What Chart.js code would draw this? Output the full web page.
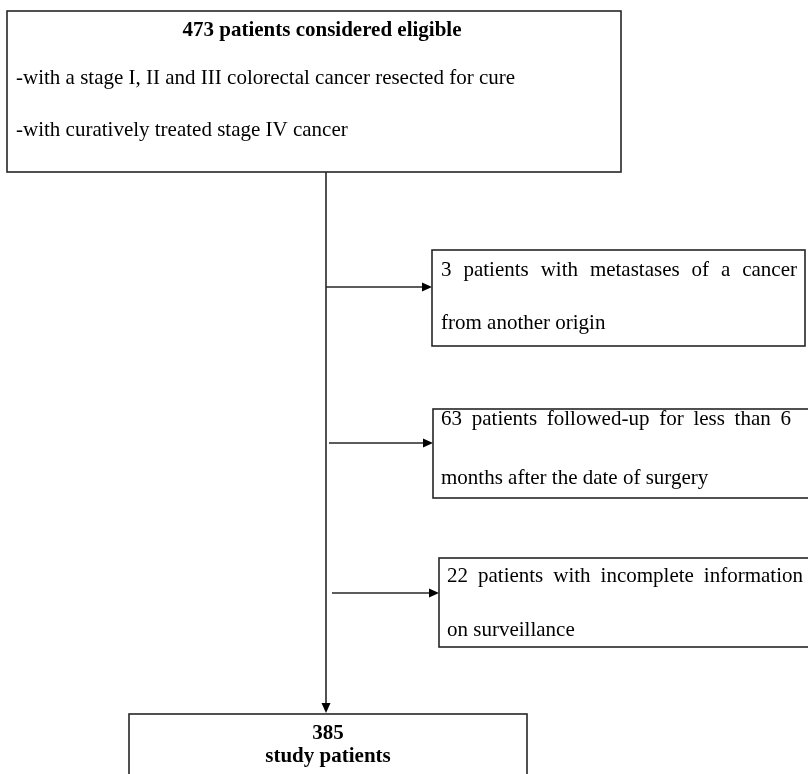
<!DOCTYPE html>
<html>
<head>
<meta charset="utf-8">
<script src="https://cdn.jsdelivr.net/npm/chart.js@4"></script>
<style>
    html, body { margin: 0; padding: 0; background: #fff; }
    #flow { display: block; }
</style>
</head>
<body>
<canvas id="flow" width="808" height="774"></canvas>
<script>
// patient counts for each step of the flow
const eligibleCount = 473;
const excludedCounts = [3, 63, 22];
const studyCount = 385;

// box texts
const eligibleTitle = `${eligibleCount} patients considered eligible`;
const eligibleCriteria = [
    '-with a stage I, II and III colorectal cancer resected for cure',
    '-with curatively treated stage IV cancer'
];
const excludedReasons = [
    ['patients with metastases of a cancer', 'from another origin'],
    ['patients followed-up for less than 6', 'months after the date of surgery'],
    ['patients with incomplete information', 'on surveillance']
];
const studyLabel = 'study patients';

// layout in page units (axis 0..808 x 0..774)
const layout = {
    top: { x0: 7, x1: 621, y0: 11, y1: 172, titleY: 31, lineY: [78, 130], padX: 9 },
    trunkX: 326,
    side: [
        { fromX: 326, y: 287, x0: 432, x1: 805, y0: 250, y1: 346, lineY: [270, 323], padL: 9, textRight: 797 },
        { fromX: 329, y: 443, x0: 433, x1: 816, y0: 409, y1: 498, lineY: [419, 478], padL: 8, textRight: 791 },
        { fromX: 332, y: 593, x0: 439, x1: 816, y0: 558, y1: 647, lineY: [576, 630], padL: 8, textRight: 803 }
    ],
    bottom: { x0: 129, x1: 527, y0: 714, y1: 800, lineY: [734, 757] }
};

const serif = '"Liberation Serif", "Times New Roman", serif';
const fontSize = 21;

function drawArrow(ctx, x1, y1, x2, y2) {
    const ang = Math.atan2(y2 - y1, x2 - x1);
    const len = 10, half = 4.5;
    ctx.beginPath();
    ctx.moveTo(x1, y1);
    ctx.lineTo(x2 - Math.cos(ang) * len, y2 - Math.sin(ang) * len);
    ctx.stroke();
    ctx.beginPath();
    ctx.moveTo(x2, y2);
    ctx.lineTo(x2 - Math.cos(ang) * len - Math.sin(ang) * half, y2 - Math.sin(ang) * len + Math.cos(ang) * half);
    ctx.lineTo(x2 - Math.cos(ang) * len + Math.sin(ang) * half, y2 - Math.sin(ang) * len - Math.cos(ang) * half);
    ctx.closePath();
    ctx.fill();
}

// spreads the words of a line between two x positions
function justified(ctx, text, left, right, y) {
    const words = text.split(' ');
    const wordsW = words.reduce((s, w) => s + ctx.measureText(w).width, 0);
    const gap = (right - left - wordsW) / (words.length - 1);
    let x = left;
    ctx.textAlign = 'left';
    words.forEach(w => {
        ctx.fillText(w, x, y);
        x += ctx.measureText(w).width + gap;
    });
}

const flowPlugin = {
    id: 'flowDiagram',
    afterDraw(chart) {
        const ctx = chart.ctx;
        const sx = v => chart.scales.x.getPixelForValue(v);
        const sy = v => chart.scales.y.getPixelForValue(v);
        const rect = b => {
            ctx.strokeRect(sx(b.x0), sy(b.y0), sx(b.x1) - sx(b.x0), sy(b.y1) - sy(b.y0));
        };

        ctx.save();
        ctx.strokeStyle = '#262626';
        ctx.fillStyle = '#000';
        ctx.lineWidth = 1.6;
        ctx.textBaseline = 'middle';

        // top box
        const t = layout.top;
        rect(t);
        ctx.font = `bold ${fontSize}px ${serif}`;
        ctx.textAlign = 'center';
        ctx.fillText(eligibleTitle, (sx(t.x0) + sx(t.x1)) / 2 + 8, sy(t.titleY));
        ctx.font = `${fontSize}px ${serif}`;
        ctx.textAlign = 'left';
        eligibleCriteria.forEach((line, i) => ctx.fillText(line, sx(t.x0 + t.padX), sy(t.lineY[i])));

        // trunk down to the study box
        const b = layout.bottom;
        drawArrow(ctx, sx(layout.trunkX), sy(t.y1), sx(layout.trunkX), sy(b.y0 - 1));

        // exclusions
        layout.side.forEach((s, i) => {
            drawArrow(ctx, sx(s.fromX), sy(s.y), sx(s.x0), sy(s.y));
            rect(s);
            ctx.font = `${fontSize}px ${serif}`;
            const first = `${excludedCounts[i]} ${excludedReasons[i][0]}`;
            justified(ctx, first, sx(s.x0 + s.padL), sx(s.textRight), sy(s.lineY[0]));
            ctx.textAlign = 'left';
            ctx.fillText(excludedReasons[i][1], sx(s.x0 + s.padL), sy(s.lineY[1]));
        });

        // study patients box
        rect(b);
        ctx.font = `bold ${fontSize}px ${serif}`;
        ctx.textAlign = 'center';
        const cx = (sx(b.x0) + sx(b.x1)) / 2;
        ctx.fillText(String(studyCount), cx, sy(b.lineY[0]));
        ctx.fillText(studyLabel, cx, sy(b.lineY[1]));
        ctx.restore();
    }
};

new Chart(document.getElementById('flow'), {
    type: 'scatter',
    data: { datasets: [{ data: [] }] },
    options: {
        responsive: false,
        animation: false,
        layout: { padding: 0 },
        plugins: { legend: { display: false }, tooltip: { enabled: false } },
        scales: {
            x: { type: 'linear', min: 0, max: 808, display: false },
            y: { type: 'linear', min: 0, max: 774, reverse: true, display: false }
        }
    },
    plugins: [flowPlugin]
});
</script>
</body>
</html>
